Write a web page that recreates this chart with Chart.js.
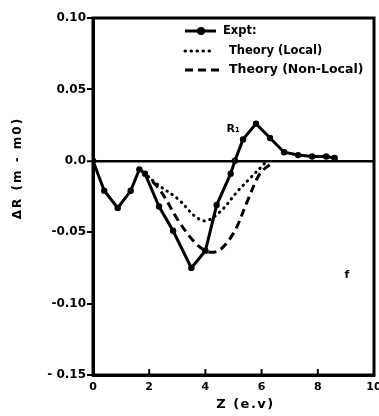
<!DOCTYPE html>
<html>
<head>
<meta charset="utf-8">
<script src="https://cdn.jsdelivr.net/npm/chart.js@4"></script>
<style>
html,body{margin:0;padding:0;background:#fff;}
#wrap{width:379px;height:416px;position:relative;}
</style>
</head>
<body>
<div id="wrap"><canvas id="c" width="379" height="416"></canvas></div>
<script>
// ---- data ----
const exptX = [0, 0.4, 0.88, 1.34, 1.65, 1.85, 2.35, 2.85, 3.5, 4.0, 4.4, 4.9, 5.05, 5.34, 5.8, 6.3, 6.8, 7.3, 7.8, 8.3, 8.6];
const exptY = [0, -0.021, -0.033, -0.021, -0.006, -0.009, -0.032, -0.049, -0.075, -0.063, -0.031, -0.009, 0.0, 0.015, 0.026, 0.016, 0.006, 0.004, 0.003, 0.003, 0.002];
const localX = [1.8, 2.26, 3.04, 3.64, 4.03, 4.56, 5.16, 5.6, 6.1];
const localY = [-0.008, -0.016, -0.027, -0.039, -0.042, -0.035, -0.021, -0.012, -0.002];
const nonLocalX = [1.8, 2.4, 3.04, 3.57, 4.0, 4.3, 4.6, 5.05, 5.5, 5.94, 6.33];
const nonLocalY = [-0.008, -0.021, -0.042, -0.056, -0.063, -0.064, -0.061, -0.049, -0.028, -0.009, -0.002];
const seriesLabels = ["Expt:", "Theory (Local)", "Theory (Non-Local)"];
const xTicks = [0, 2, 4, 6, 8, 10];
const yTicks = [-0.15, -0.10, -0.05, 0, 0.05, 0.10];
const yTickLabels = ["- 0.15", "-0.10", "-0.05", "0.0", "0.05", "0.10"];
const xTitle = "Z (e.v)";
const yTitle = "ΔR (m - m0)";
const annotations = [{text: "R\u2081", x: 4.75, y: 0.022}, {text: "f", x: 8.95, y: -0.08}];

const pts = (xs, ys) => xs.map((x, i) => ({x: x, y: ys[i]}));
const FONT = "'DejaVu Sans', sans-serif";

const framePlugin = {
  id: 'frame',
  afterDraw(chart) {
    const ctx = chart.ctx, a = chart.chartArea;
    const xs = chart.scales.x, ys = chart.scales.y;
    ctx.save();
    ctx.strokeStyle = '#000';
    ctx.lineWidth = 3;
    ctx.strokeRect(a.left, a.top, a.right - a.left, a.bottom - a.top);
    // inward x tick marks
    ctx.lineWidth = 2;
    xTicks.forEach(v => {
      const px = xs.getPixelForValue(v);
      ctx.beginPath(); ctx.moveTo(px, a.bottom); ctx.lineTo(px, a.bottom - 6); ctx.stroke();
    });
    ctx.fillStyle = '#000';
    // y-axis title
    ctx.save();
    ctx.translate(18, 168);
    ctx.rotate(-Math.PI / 2);
    ctx.font = "bold 12px " + FONT;
    ctx.textAlign = 'center'; ctx.textBaseline = 'middle';
    try { ctx.letterSpacing = '2px'; } catch (e) {}
    ctx.fillText(yTitle, 0, 0);
    ctx.restore();
    // x-axis title
    ctx.save();
    ctx.font = "bold 13px " + FONT;
    ctx.textAlign = 'center'; ctx.textBaseline = 'middle';
    try { ctx.letterSpacing = '1.5px'; } catch (e) {}
    ctx.fillText(xTitle, (a.left + a.right) / 2 + 12, 405);
    ctx.restore();
    // annotations
    ctx.font = "bold 11px " + FONT;
    ctx.textAlign = 'left'; ctx.textBaseline = 'middle';
    annotations.forEach(an => {
      ctx.fillText(an.text, xs.getPixelForValue(an.x), ys.getPixelForValue(an.y));
    });
    // legend
    ctx.save();
    ctx.beginPath(); ctx.rect(a.left, a.top, a.right - a.left - 3, a.bottom - a.top); ctx.clip();
    const rows = [31, 51, 70];
    const lx0 = 185;
    chart.data.datasets.forEach((ds, i) => {
      const y = rows[i];
      ctx.strokeStyle = '#000';
      ctx.lineWidth = ds.borderWidth;
      ctx.setLineDash(ds.borderDash || []);
      ctx.lineCap = ds.borderCapStyle || 'butt';
      const lx1 = i === 0 ? 216 : (i === 1 ? 214 : 222);
      ctx.beginPath(); ctx.moveTo(lx0, y); ctx.lineTo(lx1, y); ctx.stroke();
      ctx.setLineDash([]);
      if (i === 0) {
        ctx.beginPath(); ctx.arc(201, y, 4, 0, Math.PI * 2); ctx.fill();
      }
      ctx.font = (i === 2 ? "bold 12.5px " : "bold 11.5px ") + FONT;
      const tx = i === 0 ? 223 : 229;
      ctx.fillText(ds.label, tx, y);
    });
    ctx.restore();
    ctx.restore();
  }
};

new Chart(document.getElementById('c'), {
  type: 'line',
  data: {
    datasets: [
      {label: seriesLabels[0], data: pts(exptX, exptY), borderColor: '#000', backgroundColor: '#000',
       borderWidth: 3, pointRadius: 3.2, pointBackgroundColor: '#000', pointBorderWidth: 0, tension: 0},
      {label: seriesLabels[1], data: pts(localX, localY), borderColor: '#000', borderWidth: 3,
       borderDash: [0.5, 5.5], borderCapStyle: 'round', pointRadius: 0, tension: 0.35},
      {label: seriesLabels[2], data: pts(nonLocalX, nonLocalY), borderColor: '#000', borderWidth: 3,
       borderDash: [8, 5], pointRadius: 0, tension: 0.35}
    ]
  },
  options: {
    responsive: false,
    animation: false,
    layout: {padding: {top: 18, right: 5, left: 0, bottom: 0}},
    plugins: {legend: {display: false}, tooltip: {enabled: false}},
    scales: {
      x: {
        type: 'linear', min: 0, max: 10,
        afterBuildTicks: s => { s.ticks = xTicks.map(v => ({value: v})); },
        afterFit: s => { s.height = 41; s.paddingRight = 0; s.paddingLeft = 0; },
        grid: {drawOnChartArea: false, drawTicks: false},
        border: {display: true, color: '#000', width: 3},
        ticks: {color: '#000', padding: 6, maxRotation: 0, font: {family: FONT, weight: 'bold', size: 11},
                callback: v => String(v)},
        title: {display: false}
      },
      y: {
        type: 'linear', min: -0.15, max: 0.10,
        afterBuildTicks: s => { s.ticks = yTicks.map(v => ({value: v})); },
        afterFit: s => { s.width = 93; s.paddingTop = 0; s.paddingBottom = 0; },
        grid: {
          drawOnChartArea: true, drawTicks: true, tickLength: 6, tickWidth: 2, tickColor: '#000',
          color: ctx => (ctx.tick && Math.abs(ctx.tick.value) < 1e-9) ? '#000' : 'rgba(0,0,0,0)',
          lineWidth: ctx => (ctx.tick && Math.abs(ctx.tick.value) < 1e-9) ? 2.5 : 0
        },
        border: {display: true, color: '#000', width: 3},
        ticks: {color: '#000', padding: 1, font: {family: FONT, weight: 'bold', size: 12},
                callback: (v) => { const i = yTicks.findIndex(t => Math.abs(t - v) < 1e-9); return i >= 0 ? yTickLabels[i] : ''; }},
        title: {display: false}
      }
    }
  },
  plugins: [framePlugin]
});
</script>
</body>
</html>
